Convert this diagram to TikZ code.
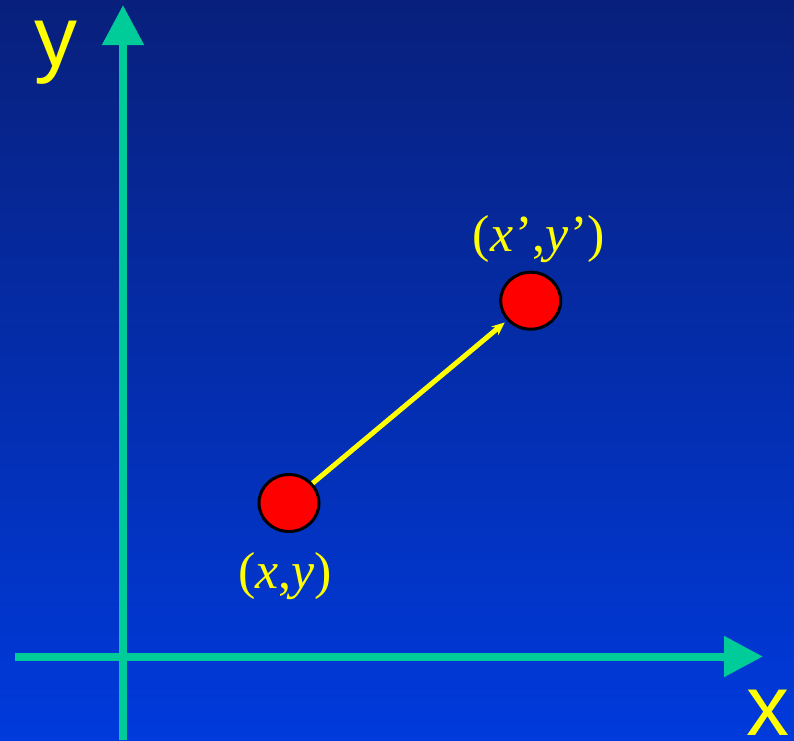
\documentclass[tikz,border=0pt]{standalone}
\usepackage{fontspec}
\setmainfont{Liberation Serif}
\newfontfamily\arialfont{Liberation Sans}
\usetikzlibrary{arrows.meta,shapes.geometric}
\definecolor{bgtop}{RGB}{8,32,124}
\definecolor{bgbot}{RGB}{0,58,220}
\definecolor{axisgreen}{RGB}{0,204,153}
\definecolor{labyellow}{RGB}{255,255,0}
\begin{document}
\begin{tikzpicture}[x=1pt,y=-1pt,
  axisline/.style={draw=axisgreen,line width=8pt,line cap=butt},
  pointdot/.style={ellipse,draw=black,line width=3pt,fill=red,minimum width=60pt,minimum height=57pt,inner sep=0pt},
  coordlabel/.style={text=labyellow,font=\fontsize{52}{52}\selectfont,anchor=base,inner sep=0pt},
  axislabel/.style={text=labyellow,font=\arialfont\fontsize{86}{86}\selectfont,anchor=base west,inner sep=0pt},
  moveline/.style={draw=labyellow,line width=5pt,-{Stealth[length=13pt,width=11pt]},shorten >=3pt}]
\useasboundingbox (0,0) rectangle (794,740);
\shade[top color=bgtop,bottom color=bgbot] (0,0) rectangle (794,740);
% axes
\coordinate (ybot) at (123,740);
\coordinate (ytop) at (123,5);
\coordinate (xleft) at (15,656.5);
\coordinate (xright) at (763,656.5);
\draw[axisline,-{Triangle[length=40pt,width=40pt]}] (ybot) -- (ytop);
\draw[axisline,-{Triangle[length=39pt,width=39pt]}] (xleft) -- (xright);
% points
\node[pointdot] (p1) at (289,503) {};
\node[pointdot] (p2) at (530.7,300.7) {};
\draw[moveline] (p1) -- (p2);
% labels
\node[coordlabel] (l1) at (285,588) {(\textit{x},\textit{y})};
\node[coordlabel] (l2) at (539,251) {(\textit{x}\kern2pt’,\textit{y}\kern2pt’)};
\node[axislabel] (ly) at (34,66.5) {y};
\node[axislabel] (lx) at (746,735) {x};
\end{tikzpicture}
\end{document}
